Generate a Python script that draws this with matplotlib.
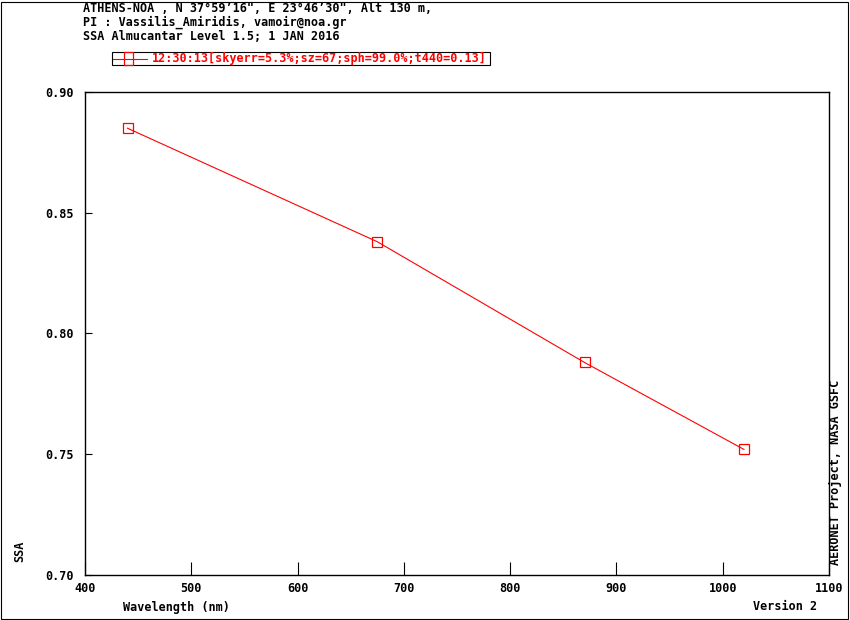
import matplotlib
matplotlib.use("Agg")
import matplotlib.pyplot as plt
from matplotlib.patches import Rectangle

wavelength = [440, 675, 870, 1020]
ssa = [0.885, 0.838, 0.788, 0.752]
xticks = [400, 500, 600, 700, 800, 900, 1000, 1100]
yticks = [0.70, 0.75, 0.80, 0.85, 0.90]

header = ['ATHENS-NOA , N 37\u00b059\u201916", E 23\u00b046\u201930", Alt 130 m,',
          'PI : Vassilis_Amiridis, vamoir@noa.gr',
          'SSA Almucantar Level 1.5; 1 JAN 2016']
legend_label = '12:30:13[skyerr=5.3%;sz=67;sph=99.0%;t440=0.13]'

W, H = 850, 620
fig = plt.figure(figsize=(W/100, H/100), dpi=100)
plt.rcParams['font.family'] = ['DejaVu Sans Mono']
fp = dict(family='DejaVu Sans Mono', weight='bold', size=8.5)

L, R, T, B = 85, 829, 92, 575
ax = fig.add_axes([L/W, 1-B/H, (R-L)/W, (B-T)/H])
ax.plot(wavelength, ssa, color='#ff0000', lw=0.8, marker='s', ms=6.5,
        mfc='none', mec='#ff0000', mew=0.9)
ax.set_xlim(400, 1100)
ax.set_ylim(0.70, 0.90)
ax.set_xticks(xticks)
ax.set_yticks(yticks)
ax.set_xticklabels([str(t) for t in xticks], **fp)
ax.set_yticklabels(['%.2f' % t for t in yticks], **fp)
ax.tick_params(axis='x', direction='in', length=9.5, width=0.8, pad=5)
ax.tick_params(axis='y', direction='in', length=5, width=0.8, pad=8)
for s in ax.spines.values():
    s.set_linewidth(1.0)

# outer frame
fig.patches.append(Rectangle((0.5/W, 1.5/H), (W-3)/W, (H-3)/H, transform=fig.transFigure,
                             fill=False, ec='black', lw=0.8))

for i, line in enumerate(header):
    fig.text(83/W, 1-(9+13.5*i)/H, line, ha='left', va='center', **fp)

# legend box
fig.patches.append(Rectangle((112/W, 1-65/H), (490-112)/W, 13/H, transform=fig.transFigure,
                             fill=False, ec='black', lw=0.8))
fig.lines.append(plt.Line2D([113/W, 147/W], [1-58.5/H]*2, transform=fig.transFigure,
                            color='#ff0000', lw=0.8))
fig.patches.append(Rectangle((124/W, 1-65/H), 9/W, 13/H, transform=fig.transFigure,
                             fill=False, ec='#ff0000', lw=0.9))
fig.text(152/W, 1-58.5/H, legend_label, ha='left', va='center', color='#ff0000', **fp)

fig.text(123/W, 1-607/H, 'Wavelength (nm)', ha='left', va='center', **fp)
fig.text(817/W, 1-607/H, 'Version 2', ha='right', va='center', **fp)
fig.text(20/W, 1-562/H, 'SSA', rotation=90, ha='center', va='bottom', **fp)
fig.text(836/W, 1-565/H, 'AERONET Project, NASA GSFC', rotation=90, ha='center', va='bottom', **fp)

fig.savefig('out.png', dpi=100)
